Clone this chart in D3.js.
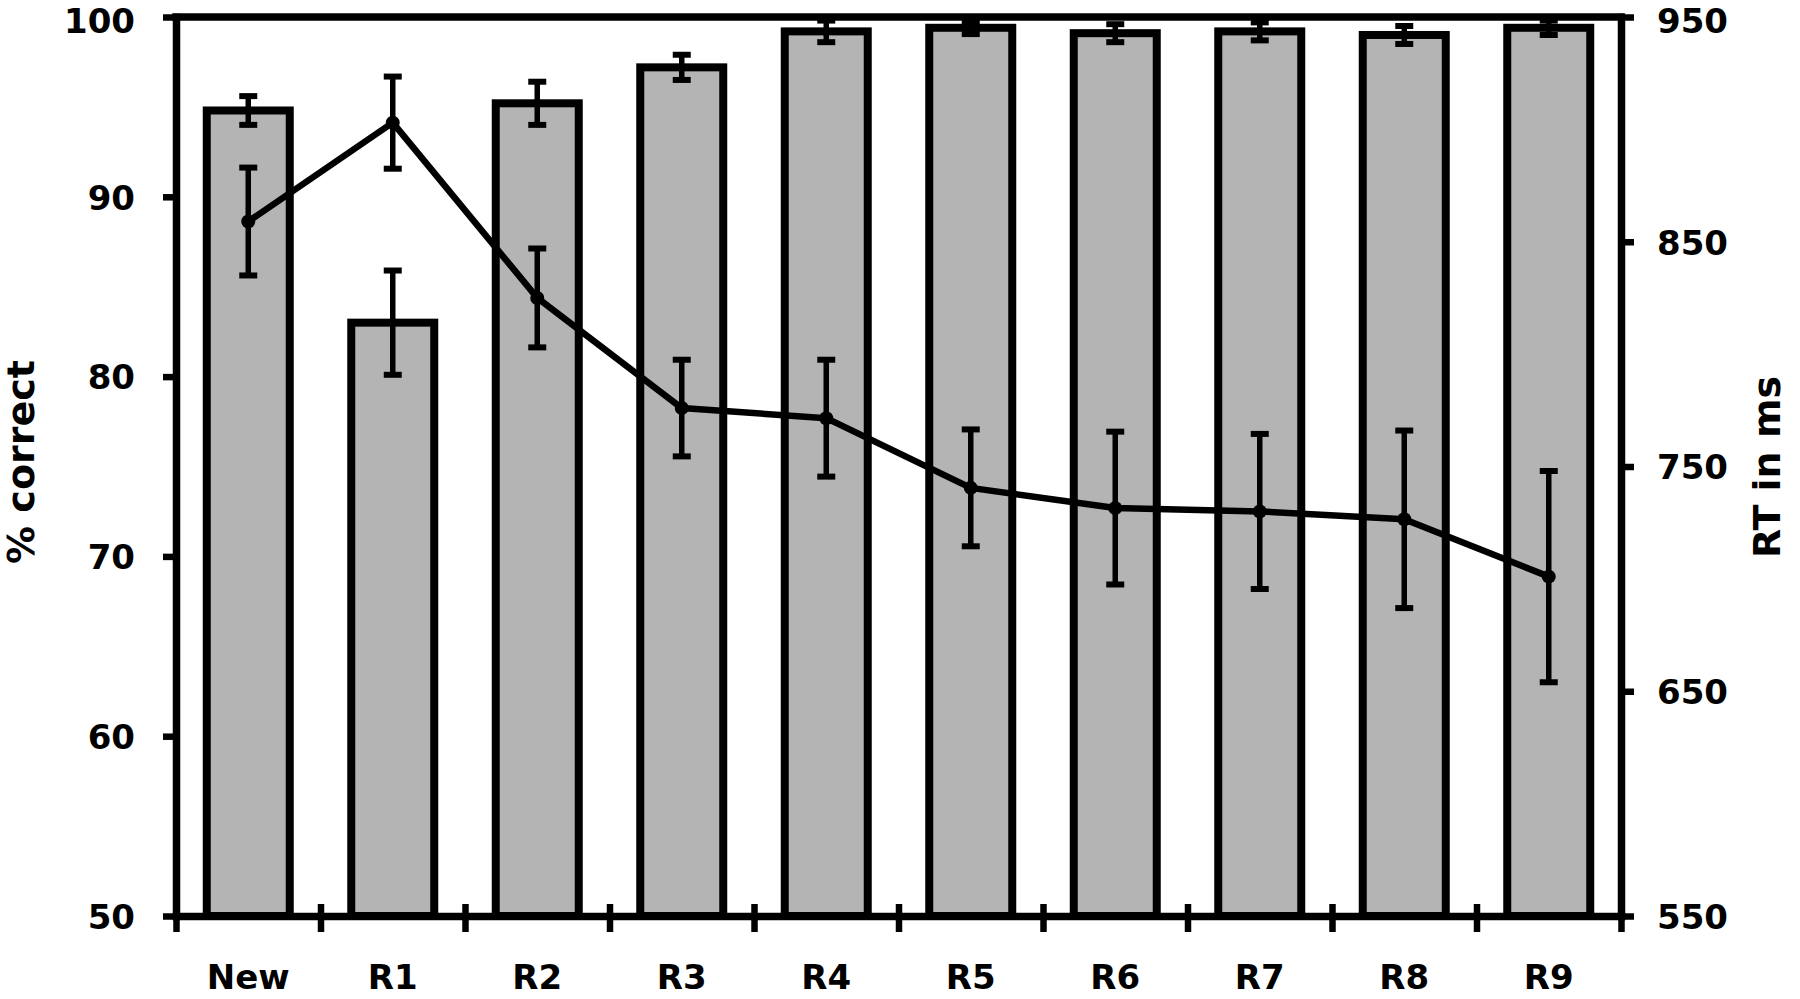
<!DOCTYPE html>
<html>
<head>
<meta charset="utf-8">
<script src="https://cdn.jsdelivr.net/npm/d3@7/dist/d3.min.js"></script>
<style>
  html, body { margin: 0; padding: 0; background: #fff; }
  svg { display: block; }
  text { font-family: "DejaVu Sans", sans-serif; font-weight: bold; fill: #000; }
</style>
</head>
<body>
<svg id="chart" width="1800" height="999"></svg>
<script>
// ---- data ----
const categories = ["New", "R1", "R2", "R3", "R4", "R5", "R6", "R7", "R8", "R9"];
const accuracy = [94.8, 83.0, 95.2, 97.2, 99.2, 99.4, 99.1, 99.2, 99.0, 99.4];
const accuracyErr = [0.8, 2.9, 1.2, 0.7, 0.6, 0.35, 0.5, 0.5, 0.5, 0.4];
const rt = [859, 903, 825, 776, 771.5, 740.5, 731.5, 730, 726.5, 701];
const rtErr = [24, 20.5, 22, 21.5, 26, 26, 34, 34.5, 39.5, 47];
const leftTicks = [50, 60, 70, 80, 90, 100];
const rightTicks = [550, 650, 750, 850, 950];
const leftTitle = "% correct";
const rightTitle = "RT in ms";

(function () {
// ---- layout ----
const pL = 176, pR = 1621, pT = 17, pB = 916;
const svg = d3.select("#chart");

const x = d3.scaleBand().domain(categories).range([pL, pR]).padding(0);
const yL = d3.scaleLinear().domain([50, 100]).range([pB, pT]);
const yR = d3.scaleLinear().domain([550, 950]).range([pB, pT]);
const bnd = d3.scaleLinear().domain([0, categories.length]).range([pL, pR]);

const bw = x.bandwidth();
const barW = 83;
const fontSize = 34;

// ---- bars ----
svg.append("g").selectAll("rect")
  .data(categories)
  .join("rect")
  .attr("x", (c) => x(c) + (bw - barW) / 2)
  .attr("y", (c, i) => yL(accuracy[i]))
  .attr("width", barW)
  .attr("height", (c, i) => pB - yL(accuracy[i]))
  .attr("fill", "#b4b4b4")
  .attr("stroke", "#000")
  .attr("stroke-width", 8);

// ---- error bar helper ----
function errorBars(vals, errs, scale) {
  const g = svg.append("g").attr("stroke", "#000").attr("stroke-width", 5.5);
  categories.forEach((c, i) => {
    const cx = x(c) + bw / 2;
    const y1 = scale(vals[i] + errs[i]);
    const y2 = scale(vals[i] - errs[i]);
    g.append("line").attr("x1", cx).attr("x2", cx).attr("y1", y1).attr("y2", y2);
    g.append("line").attr("x1", cx - 9).attr("x2", cx + 9).attr("y1", y1).attr("y2", y1).attr("stroke-width", 6);
    g.append("line").attr("x1", cx - 9).attr("x2", cx + 9).attr("y1", y2).attr("y2", y2).attr("stroke-width", 6);
  });
}

errorBars(accuracy, accuracyErr, yL);

// ---- RT line ----
const line = d3.line()
  .x((d, i) => x(categories[i]) + bw / 2)
  .y((d) => yR(d));

svg.append("path")
  .datum(rt)
  .attr("d", line)
  .attr("fill", "none")
  .attr("stroke", "#000")
  .attr("stroke-width", 6.5)
  .attr("stroke-linejoin", "round");

errorBars(rt, rtErr, yR);

svg.append("g").selectAll("circle")
  .data(rt)
  .join("circle")
  .attr("cx", (d, i) => x(categories[i]) + bw / 2)
  .attr("cy", (d) => yR(d))
  .attr("r", 7)
  .attr("fill", "#000");

// ---- axes ----
function styleAxis(g) {
  g.select(".domain").attr("stroke", "#000").attr("stroke-width", 7.5).attr("stroke-linecap", "square");
  g.selectAll(".tick line").attr("stroke", "#000").attr("stroke-width", 6.5);
  g.selectAll(".tick text").style("font-size", fontSize + "px").attr("font-weight", "bold")
    .attr("font-family", "DejaVu Sans");
}

// top frame line
svg.append("line")
  .attr("x1", pL).attr("x2", pR)
  .attr("y1", pT).attr("y2", pT)
  .attr("stroke", "#000").attr("stroke-width", 7.5).attr("stroke-linecap", "square");

const gL = svg.append("g")
  .attr("transform", `translate(${pL},0)`)
  .call(d3.axisLeft(yL).tickValues(leftTicks).tickSize(13).tickSizeOuter(0).tickPadding(28).tickFormat(d3.format("d")))
  .call(styleAxis);
gL.selectAll(".tick text").attr("dy", (d) => d === 100 ? "0.46em" : "0.36em");

const gR = svg.append("g")
  .attr("transform", `translate(${pR},0)`)
  .call(d3.axisRight(yR).tickValues(rightTicks).tickSize(13).tickSizeOuter(0).tickPadding(23).tickFormat(d3.format("d")))
  .call(styleAxis);
gR.selectAll(".tick text").attr("dy", (d) => d === 950 ? "0.46em" : "0.36em");

// x axis with category labels
const gX = svg.append("g")
  .attr("transform", `translate(0,${pB})`)
  .call(d3.axisBottom(x).tickSize(0).tickSizeOuter(0))
  .call(styleAxis);
gX.selectAll(".tick text").attr("y", 61).attr("dy", "0.36em");

// boundary ticks crossing the x axis
const gB = svg.append("g")
  .attr("transform", `translate(0,${pB})`)
  .call(d3.axisBottom(bnd).tickValues(d3.range(categories.length + 1)).tickSize(16).tickSizeOuter(0).tickFormat(""));
gB.select(".domain").remove();
gB.selectAll(".tick line").attr("y1", -12).attr("y2", 16).attr("stroke", "#000").attr("stroke-width", 6.5);

// ---- axis titles ----
svg.append("text")
  .attr("transform", `translate(20,462) rotate(-90)`)
  .attr("text-anchor", "middle")
  .attr("dy", "0.36em")
  .style("font-size", "38px")
  .text(leftTitle);

svg.append("text")
  .attr("transform", `translate(1766,467) rotate(-90)`)
  .attr("text-anchor", "middle")
  .attr("dy", "0.36em")
  .style("font-size", "38px")
  .text(rightTitle);
})();
</script>
</body>
</html>
